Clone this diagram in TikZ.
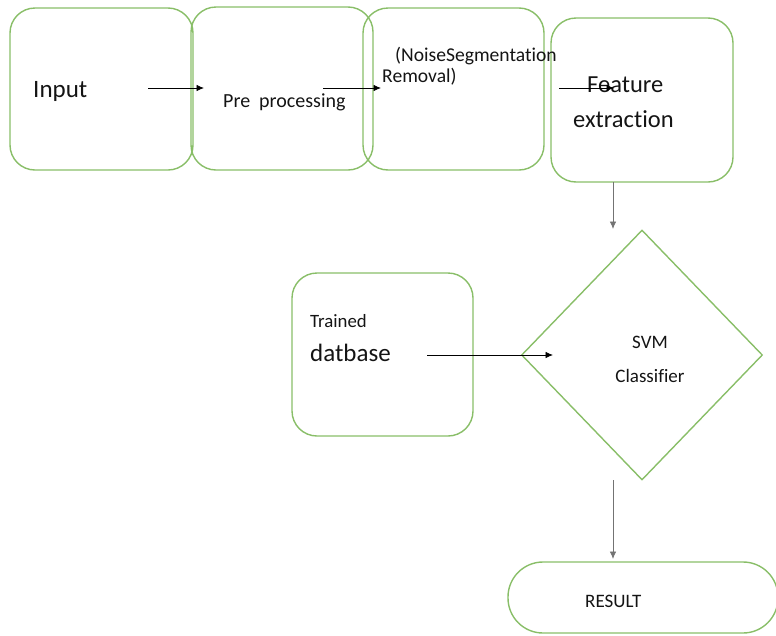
\documentclass[tikz,border=0pt]{standalone}
\usepackage{fontspec}
\setmainfont[Ligatures={NoCommon}]{Carlito}
\usetikzlibrary{shapes.geometric,arrows.meta}
\definecolor{boxgreen}{RGB}{137,190,104}
\definecolor{txt}{RGB}{20,20,20}
\tikzset{
  box/.style={draw=boxgreen, line width=1.4pt, rounded corners=25pt, inner sep=0pt},
  lbl/.style={inner sep=0pt, text=txt},
  conn/.style={line width=0.8pt, -{Latex[length=7.5pt,width=6.5pt]}},
  gconn/.style={conn, draw=black!55},
}
\begin{document}
\begin{tikzpicture}[x=1pt,y=-1pt]
\useasboundingbox (0,0) rectangle (776,635);
% boxes
\node[box, minimum width=183pt, minimum height=162pt] (inp) at (101.5,89) {};
\node[box, minimum width=182pt, minimum height=163pt] (pre) at (282,88.5) {};
\node[box, minimum width=181pt, minimum height=162pt] (noise) at (453.5,89) {};
\node[box, minimum width=182pt, minimum height=164pt] (feat) at (642,100) {};
\node[box, minimum width=181pt, minimum height=163pt] (train) at (382.5,354.5) {};
\node[draw=boxgreen, line width=1.4pt, diamond, minimum width=241pt, minimum height=250pt, inner sep=0pt] (svm) at (642,355) {};
\node[box, rounded corners=35pt, minimum width=270pt, minimum height=71pt] (res) at (643,597.5) {};
% labels
\node[lbl, anchor=base west, font=\fontsize{25}{28}\selectfont] (tinp) at (33,97) {Input};
\node[lbl, anchor=base west, font=\fontsize{20}{24}\selectfont] (tpre) at (223,107) {Pre\ \ processing};
\node[lbl, anchor=base west, font=\fontsize{19.6}{24}\selectfont] (tnoiseA) at (395,61) {(NoiseSegmentation};
\node[lbl, anchor=base west, font=\fontsize{19.6}{24}\selectfont] (tnoiseB) at (382,82) {Removal)};
\node[lbl, anchor=base west, font=\fontsize{24.5}{28}\selectfont] (tfeatA) at (587,92) {Feature};
\node[lbl, anchor=base west, font=\fontsize{24.5}{28}\selectfont] (tfeatB) at (573,127) {extraction};
\node[lbl, anchor=base west, font=\fontsize{18.8}{22}\selectfont] (ttrA) at (310,327) {Trained};
\node[lbl, anchor=base west, font=\fontsize{25}{28}\selectfont] (ttrB) at (310,361) {datbase};
\node[lbl, anchor=base, font=\fontsize{19}{22}\selectfont] (tsvmA) at (650,348) {SVM};
\node[lbl, anchor=base, font=\fontsize{19}{22}\selectfont] (tsvmB) at (650,382) {Classifier};
\node[lbl, anchor=base west, font=\fontsize{19}{22}\selectfont] (tres) at (585,607) {RESULT};
% connector end points
\coordinate (a1s) at (148,88); \coordinate (a1e) at (204,88);
\coordinate (a2s) at (323,88); \coordinate (a2e) at (381,88);
\coordinate (a3s) at (559,88); \coordinate (a3e) at (614,88);
\coordinate (a4s) at (613,182); \coordinate (a4e) at (613,229);
\coordinate (a5s) at (427,355); \coordinate (a5e) at (553,355);
\coordinate (a6s) at (613,480); \coordinate (a6e) at (613,559);
% connectors
\draw[conn] (a1s) -- (a1e);
\draw[conn] (a2s) -- (a2e);
\draw[conn] (a3s) -- (a3e);
\draw[gconn] (a4s) -- (a4e);
\draw[conn] (a5s) -- (a5e);
\draw[gconn] (a6s) -- (a6e);
\end{tikzpicture}
\end{document}
